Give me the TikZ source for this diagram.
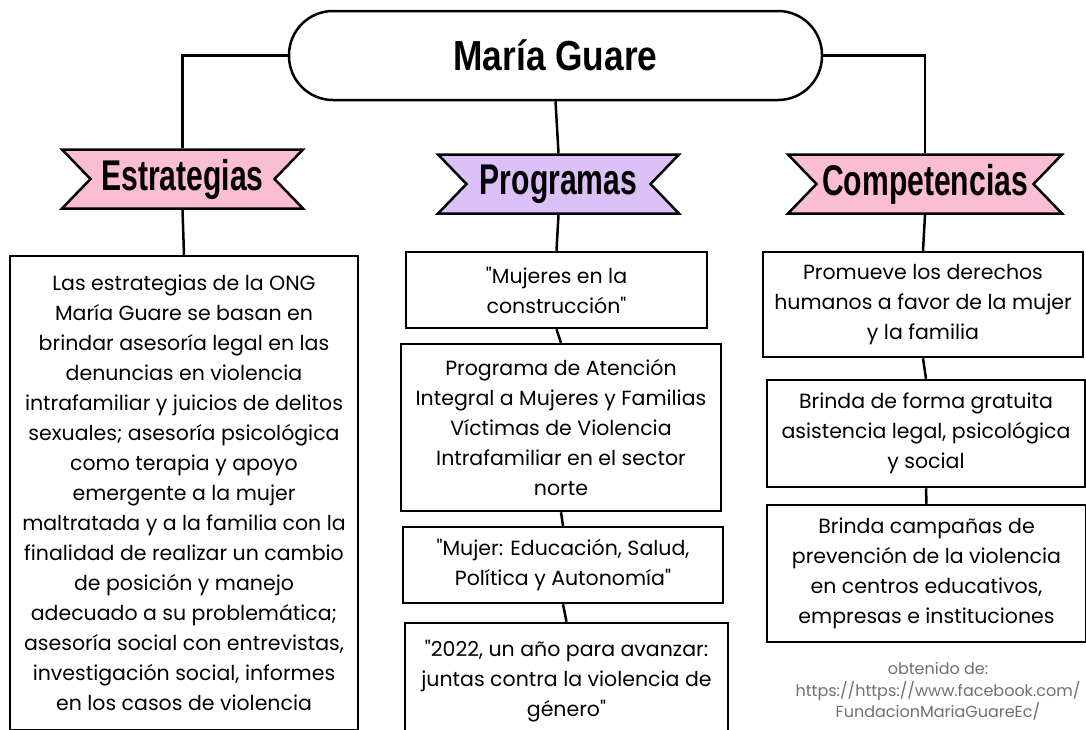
\documentclass[tikz,border=0pt]{standalone}
\usepackage{fontspec}
\usepackage{tikz}
\usetikzlibrary{shapes.symbols}
\setmainfont{Poppins}[Ligatures=TeXOff]
\newfontfamily\titlefont[FakeStretch=0.84]{Liberation Sans Bold}
\newfontfamily\bannerfont[FakeStretch=0.70]{Liberation Sans Bold}
\definecolor{pinkfill}{HTML}{FBBDD4}
\definecolor{lilacfill}{HTML}{DBC1F8}
\definecolor{footgray}{HTML}{707070}

\begin{document}
\begin{tikzpicture}[x=1pt, y=-1pt, line width=2.5pt,
	banner/.style={draw, signal, signal to=nowhere, signal from=west and east,
		signal pointer angle=92, inner sep=0pt, minimum height=59,
		font=\bannerfont\fontsize{43}{43}\selectfont},
	textbox/.style={draw, align=center, inner sep=0pt,
		font=\fontsize{20.5}{30}\selectfont}]
	\useasboundingbox (0,0) rectangle (1086,729);
	\clip (0,0) rectangle (1086,729);
	\fill [white] (0,0) rectangle (1086,729);
	\node [draw, rounded corners=44, minimum width=533, minimum height=89,
		font=\titlefont\fontsize{42}{42}\selectfont] (title) at (555.5,55.5) {María Guare};
	\node [banner, fill=pinkfill, minimum width=241] (estr) at (182.5,179) {Estrategias};
	\node [banner, fill=lilacfill, minimum width=241] (prog) at (558.5,184) {Programas};
	\node [banner, fill=pinkfill, minimum width=274] (comp) at (925,184) {Competencias};
	\node [textbox, minimum width=348, minimum height=474] (estrtext) at (184,493) {Las estrategias de la ONG\\
		María Guare se basan en\\ brindar asesoría legal en las\\ denuncias en violencia\\
		intrafamiliar y juicios de delitos\\ sexuales; asesoría psicológica\\ como terapia y apoyo\\
		emergente a la mujer\\ maltratada y a la familia con la\\ finalidad de realizar un cambio\\
		de posición y manejo\\ adecuado a su problemática;\\ asesoría social con entrevistas,\\
		investigación social, informes\\ en los casos de violencia};
	\node [textbox, minimum width=301, minimum height=76] (prog1) at (556.5,290) {"Mujeres en la\\ construcción"};
	\node [textbox, minimum width=320, minimum height=167] (prog2) at (561,427.5) {Programa de Atención\\
		Integral a Mujeres y Familias\\ Víctimas de Violencia\\ Intrafamiliar en el sector\\ norte};
	\node [textbox, minimum width=320, minimum height=76] (prog3) at (563,565) {"Mujer: Educación, Salud,\\ Política y Autonomía"};
	\node [textbox, minimum width=323, minimum height=116] (prog4) at (566.5,681) {"2022, un año para avanzar:\\
		juntas contra la violencia de\\ género"};
	\node [textbox, minimum width=320, minimum height=105] (comp1) at (923,304.5) {Promueve los derechos\\
		humanos a favor de la mujer\\ y la familia};
	\node [textbox, minimum width=318, minimum height=107] (comp2) at (926,433.5) {Brinda de forma gratuita\\
		asistencia legal, psicológica\\ y social};
	\node [textbox, minimum width=319, minimum height=137] (comp3) at (926.5,573.5) {Brinda campañas de\\
		prevención de la violencia\\ en centros educativos,\\ empresas e instituciones};
	\node [align=center, text=footgray, font=\fontsize{16}{21.5}\selectfont] (source) at (938,691.5) {obtenido de:\\
		https://https://www.facebook.com/\\ FundacionMariaGuareEc/};
	\draw (title.west) -| (estr.north);
	\draw (title.south) -- (prog.north);
	\draw (title.east) -| (comp.north);
	\draw (estr.south) -- (estrtext.north);
	\draw (prog.south) -- (prog1.north);
	\draw (prog1.south) -- (prog2.north);
	\draw (prog2.south) -- (prog3.north);
	\draw (prog3.south) -- (prog4.north);
	\draw (comp.south) -- (comp1.north);
	\draw (comp1.south) -- (comp2.north);
	\draw (comp2.south) -- (comp3.north);
\end{tikzpicture}
\end{document}
